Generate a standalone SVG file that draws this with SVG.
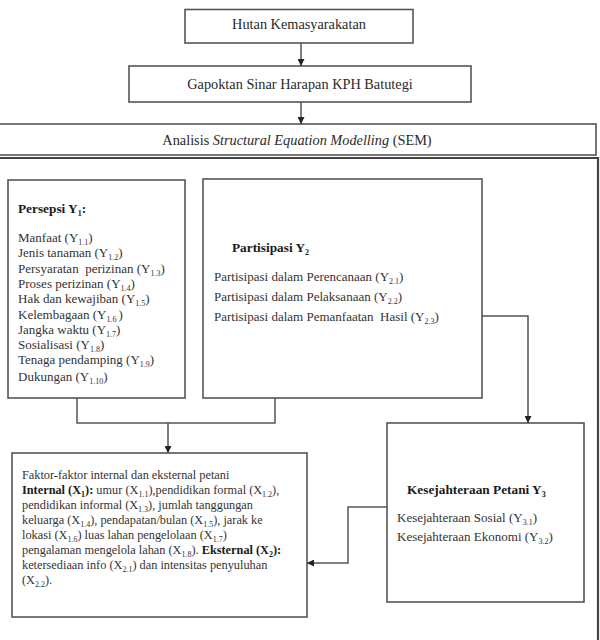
<svg xmlns="http://www.w3.org/2000/svg" width="600" height="640" viewBox="0 0 600 640">
<style>
text{font-family:"Liberation Serif","Times New Roman",serif;fill:#333;font-size:13px;white-space:pre}
.t{font-size:14.3px;text-anchor:middle;fill:#2a2a2a}
.b{font-weight:bold;fill:#1a1a1a;font-size:13.3px}
.f{font-size:12.3px}
.f .b{font-size:12.3px}
.s{font-size:8px;baseline-shift:-2.5px}
.box{fill:#fff;stroke:#555;stroke-width:1.6}
.ln{fill:none;stroke:#555;stroke-width:1.5}
</style>
<defs>
<marker id="ah" viewBox="0 0 10 10" refX="10" refY="5" markerWidth="7" markerHeight="7" markerUnits="userSpaceOnUse" orient="auto">
<path d="M0,0 L10,5 L0,10 Z" fill="#222"/>
</marker>
</defs>
<rect width="600" height="640" fill="#fff"/>

<g id="frame">
<path d="M0,158 H598 V640" fill="none" stroke="#444" stroke-width="2.2"/>
</g>

<g id="hutan">
<rect class="box" x="185" y="9.5" width="228" height="33.5"/>
<text class="t" x="299" y="29">Hutan Kemasyarakatan</text>
</g>

<g id="gapoktan">
<rect class="box" x="129" y="66" width="342" height="36"/>
<text class="t" x="300" y="89">Gapoktan Sinar Harapan KPH Batutegi</text>
</g>

<g id="sem">
<rect class="box" x="-1" y="124" width="597" height="31"/>
<text class="t" x="297" y="144.5">Analisis <tspan font-style="italic">Structural Equation Modelling</tspan> (SEM)</text>
</g>

<g id="persepsi">
<rect class="box" x="8" y="180" width="177" height="218"/>
<text class="b" x="18" y="213">Persepsi Y<tspan class="s">1</tspan>:</text>
<text x="18" y="242">Manfaat (Y<tspan class="s">1.1</tspan>)</text>
<text x="18" y="257.3">Jenis tanaman (Y<tspan class="s">1.2</tspan>)</text>
<text x="18" y="272.6">Persyaratan  perizinan (Y<tspan class="s">1.3</tspan>)</text>
<text x="18" y="287.9">Proses perizinan (Y<tspan class="s">1.4</tspan>)</text>
<text x="18" y="303.2">Hak dan kewajiban (Y<tspan class="s">1.5</tspan>)</text>
<text x="18" y="318.5">Kelembagaan (Y<tspan class="s">1.6 </tspan>)</text>
<text x="18" y="333.8">Jangka waktu (Y<tspan class="s">1.7</tspan>)</text>
<text x="18" y="349.1">Sosialisasi (Y<tspan class="s">1.8</tspan>)</text>
<text x="18" y="364.4">Tenaga pendamping (Y<tspan class="s">1.9</tspan>)</text>
<text x="18" y="380.5">Dukungan (Y<tspan class="s">1.10</tspan>)</text>
</g>

<g id="partisipasi">
<rect class="box" x="203" y="179" width="279" height="219"/>
<text class="b" x="232" y="252">Partisipasi Y<tspan class="s">2</tspan></text>
<text x="214" y="281">Partisipasi dalam Perencanaan (Y<tspan class="s">2.1</tspan>)</text>
<text x="214" y="301">Partisipasi dalam Pelaksanaan (Y<tspan class="s">2.2</tspan>)</text>
<text x="214" y="321">Partisipasi dalam Pemanfaatan  Hasil (Y<tspan class="s">2.3</tspan>)</text>
</g>

<g id="kesejahteraan">
<rect class="box" x="387" y="423" width="197" height="179"/>
<text class="b" x="407" y="494">Kesejahteraan Petani Y<tspan class="s">3</tspan></text>
<text x="397" y="522">Kesejahteraan Sosial (Y<tspan class="s">3.1</tspan>)</text>
<text x="397" y="541">Kesejahteraan Ekonomi (Y<tspan class="s">3.2</tspan>)</text>
</g>

<g id="faktor" class="f">
<rect class="box" x="12" y="453" width="295" height="164"/>
<text class="f" x="22" y="479">Faktor-faktor internal dan eksternal petani</text>
<text class="f" x="22" y="494"><tspan class="b">Internal (X<tspan class="s">1</tspan>):</tspan> umur (X<tspan class="s">1.1</tspan>),pendidikan formal (X<tspan class="s">1.2</tspan>),</text>
<text class="f" x="22" y="509">pendidikan informal (X<tspan class="s">1.3</tspan>), jumlah tanggungan</text>
<text class="f" x="22" y="524">keluarga (X<tspan class="s">1.4</tspan>), pendapatan/bulan (X<tspan class="s">1.5</tspan>), jarak ke</text>
<text class="f" x="22" y="539">lokasi (X<tspan class="s">1.6</tspan>) luas lahan pengelolaan (X<tspan class="s">1.7</tspan>)</text>
<text class="f" x="22" y="554">pengalaman mengelola lahan (X<tspan class="s">1.8</tspan>). <tspan class="b">Eksternal (X<tspan class="s">2</tspan>):</tspan></text>
<text class="f" x="22" y="569">ketersediaan info (X<tspan class="s">2.1</tspan>) dan intensitas penyuluhan</text>
<text class="f" x="22" y="584">(X<tspan class="s">2.2</tspan>).</text>
</g>

<g id="connectors">
<path class="ln" d="M301,43 V66" marker-end="url(#ah)"/>
<path class="ln" d="M301,102 V124" marker-end="url(#ah)"/>
<path class="ln" d="M482,316 H528 V423" marker-end="url(#ah)"/>
<path class="ln" d="M77,398 V423 H275 V398"/>
<path class="ln" d="M168,423 V453" marker-end="url(#ah)"/>
<path class="ln" d="M387,507 H348 V563 H307" marker-end="url(#ah)"/>
</g>
</svg>
